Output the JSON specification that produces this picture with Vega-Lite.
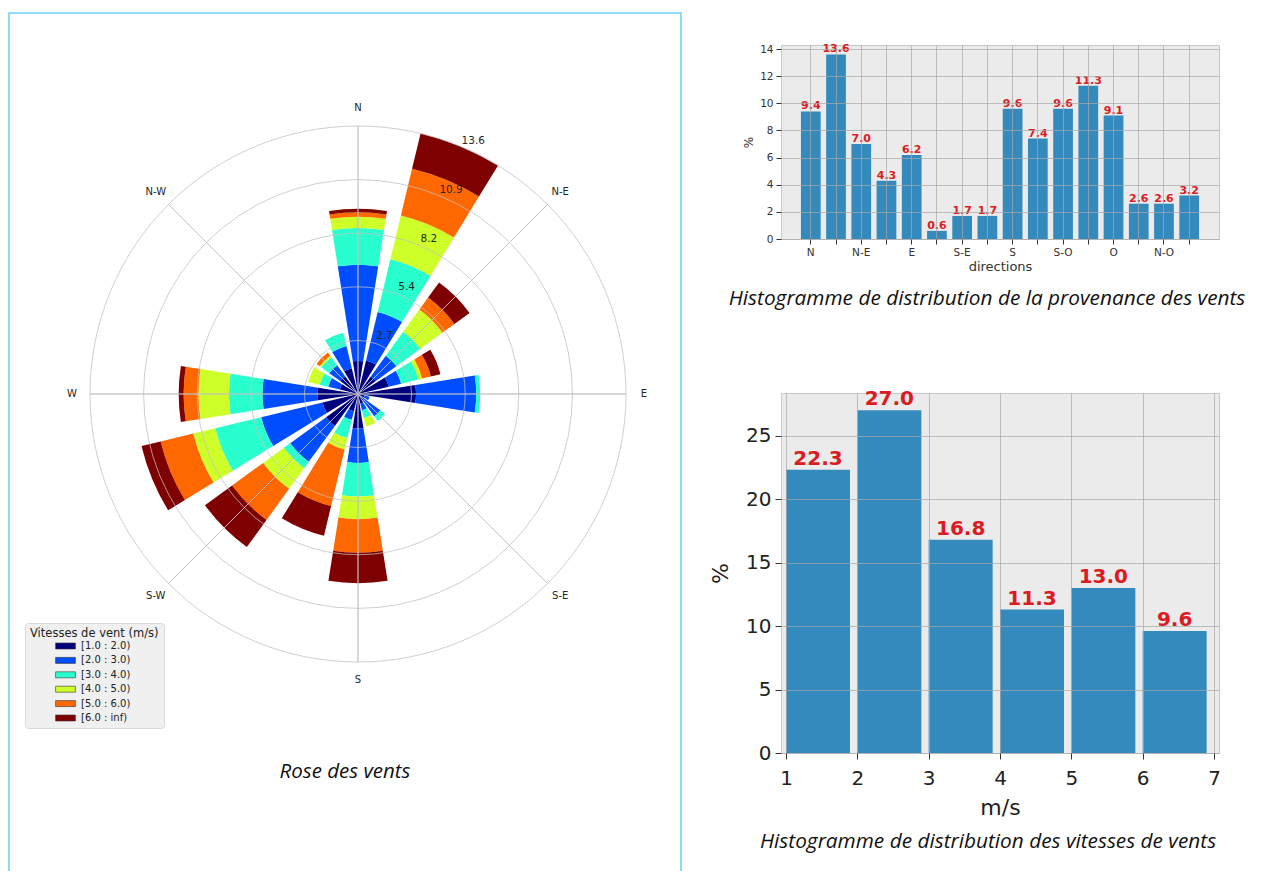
{
  "$schema": "https://vega.github.io/schema/vega-lite/v6.json",
  "background": "white",
  "padding": {"left": 8, "top": 12, "right": 0, "bottom": 0},
  "config": {"font": "DejaVu Sans", "view": {"stroke": null}},
  "datasets": {
    "rose": [
      {"dir": "N", "vitesse": "[1.0 : 2.0)", "pct": 1.68}, {"dir": "N", "vitesse": "[2.0 : 3.0)", "pct": 4.88}, {"dir": "N", "vitesse": "[3.0 : 4.0)", "pct": 1.86}, {"dir": "N", "vitesse": "[4.0 : 5.0)", "pct": 0.58}, {"dir": "N", "vitesse": "[5.0 : 6.0)", "pct": 0.22}, {"dir": "N", "vitesse": "[6.0 : inf)", "pct": 0.18},
      {"dir": "NNE", "vitesse": "[1.0 : 2.0)", "pct": 1.75}, {"dir": "NNE", "vitesse": "[2.0 : 3.0)", "pct": 2.53}, {"dir": "NNE", "vitesse": "[3.0 : 4.0)", "pct": 2.75}, {"dir": "NNE", "vitesse": "[4.0 : 5.0)", "pct": 2.29}, {"dir": "NNE", "vitesse": "[5.0 : 6.0)", "pct": 2.43}, {"dir": "NNE", "vitesse": "[6.0 : inf)", "pct": 1.85},
      {"dir": "NE", "vitesse": "[1.0 : 2.0)", "pct": 1.1}, {"dir": "NE", "vitesse": "[2.0 : 3.0)", "pct": 1.3}, {"dir": "NE", "vitesse": "[3.0 : 4.0)", "pct": 1.5}, {"dir": "NE", "vitesse": "[4.0 : 5.0)", "pct": 1.4}, {"dir": "NE", "vitesse": "[5.0 : 6.0)", "pct": 0.75}, {"dir": "NE", "vitesse": "[6.0 : inf)", "pct": 0.95},
      {"dir": "ENE", "vitesse": "[1.0 : 2.0)", "pct": 1.6}, {"dir": "ENE", "vitesse": "[2.0 : 3.0)", "pct": 0.65}, {"dir": "ENE", "vitesse": "[3.0 : 4.0)", "pct": 0.9}, {"dir": "ENE", "vitesse": "[4.0 : 5.0)", "pct": 0.2}, {"dir": "ENE", "vitesse": "[5.0 : 6.0)", "pct": 0.45}, {"dir": "ENE", "vitesse": "[6.0 : inf)", "pct": 0.5},
      {"dir": "E", "vitesse": "[1.0 : 2.0)", "pct": 2.95}, {"dir": "E", "vitesse": "[2.0 : 3.0)", "pct": 3.05}, {"dir": "E", "vitesse": "[3.0 : 4.0)", "pct": 0.2},
      {"dir": "ESE", "vitesse": "[1.0 : 2.0)", "pct": 0.35}, {"dir": "ESE", "vitesse": "[2.0 : 3.0)", "pct": 0.25},
      {"dir": "SE", "vitesse": "[1.0 : 2.0)", "pct": 0.4}, {"dir": "SE", "vitesse": "[2.0 : 3.0)", "pct": 1.0}, {"dir": "SE", "vitesse": "[3.0 : 4.0)", "pct": 0.3},
      {"dir": "SSE", "vitesse": "[1.0 : 2.0)", "pct": 0.5}, {"dir": "SSE", "vitesse": "[2.0 : 3.0)", "pct": 0.35}, {"dir": "SSE", "vitesse": "[3.0 : 4.0)", "pct": 0.4}, {"dir": "SSE", "vitesse": "[4.0 : 5.0)", "pct": 0.45},
      {"dir": "S", "vitesse": "[1.0 : 2.0)", "pct": 1.75}, {"dir": "S", "vitesse": "[2.0 : 3.0)", "pct": 1.75}, {"dir": "S", "vitesse": "[3.0 : 4.0)", "pct": 1.7}, {"dir": "S", "vitesse": "[4.0 : 5.0)", "pct": 1.15}, {"dir": "S", "vitesse": "[5.0 : 6.0)", "pct": 1.7}, {"dir": "S", "vitesse": "[6.0 : inf)", "pct": 1.55},
      {"dir": "SSW", "vitesse": "[1.0 : 2.0)", "pct": 0.9}, {"dir": "SSW", "vitesse": "[2.0 : 3.0)", "pct": 0.45}, {"dir": "SSW", "vitesse": "[3.0 : 4.0)", "pct": 0.95}, {"dir": "SSW", "vitesse": "[4.0 : 5.0)", "pct": 0.6}, {"dir": "SSW", "vitesse": "[5.0 : 6.0)", "pct": 2.95}, {"dir": "SSW", "vitesse": "[6.0 : inf)", "pct": 1.55},
      {"dir": "SW", "vitesse": "[1.0 : 2.0)", "pct": 2.0}, {"dir": "SW", "vitesse": "[2.0 : 3.0)", "pct": 2.25}, {"dir": "SW", "vitesse": "[3.0 : 4.0)", "pct": 0.4}, {"dir": "SW", "vitesse": "[4.0 : 5.0)", "pct": 1.3}, {"dir": "SW", "vitesse": "[5.0 : 6.0)", "pct": 1.95}, {"dir": "SW", "vitesse": "[6.0 : inf)", "pct": 1.7},
      {"dir": "WSW", "vitesse": "[1.0 : 2.0)", "pct": 1.85}, {"dir": "WSW", "vitesse": "[2.0 : 3.0)", "pct": 3.2}, {"dir": "WSW", "vitesse": "[3.0 : 4.0)", "pct": 2.4}, {"dir": "WSW", "vitesse": "[4.0 : 5.0)", "pct": 1.15}, {"dir": "WSW", "vitesse": "[5.0 : 6.0)", "pct": 1.7}, {"dir": "WSW", "vitesse": "[6.0 : inf)", "pct": 1.0},
      {"dir": "W", "vitesse": "[1.0 : 2.0)", "pct": 2.05}, {"dir": "W", "vitesse": "[2.0 : 3.0)", "pct": 2.8}, {"dir": "W", "vitesse": "[3.0 : 4.0)", "pct": 1.7}, {"dir": "W", "vitesse": "[4.0 : 5.0)", "pct": 1.55}, {"dir": "W", "vitesse": "[5.0 : 6.0)", "pct": 0.75}, {"dir": "W", "vitesse": "[6.0 : inf)", "pct": 0.25},
      {"dir": "WNW", "vitesse": "[1.0 : 2.0)", "pct": 0.95}, {"dir": "WNW", "vitesse": "[2.0 : 3.0)", "pct": 0.6}, {"dir": "WNW", "vitesse": "[3.0 : 4.0)", "pct": 0.45}, {"dir": "WNW", "vitesse": "[4.0 : 5.0)", "pct": 0.6},
      {"dir": "NW", "vitesse": "[1.0 : 2.0)", "pct": 1.1}, {"dir": "NW", "vitesse": "[2.0 : 3.0)", "pct": 0.7}, {"dir": "NW", "vitesse": "[3.0 : 4.0)", "pct": 0.5}, {"dir": "NW", "vitesse": "[4.0 : 5.0)", "pct": 0.1}, {"dir": "NW", "vitesse": "[5.0 : 6.0)", "pct": 0.2},
      {"dir": "NNW", "vitesse": "[1.0 : 2.0)", "pct": 1.35}, {"dir": "NNW", "vitesse": "[2.0 : 3.0)", "pct": 1.15}, {"dir": "NNW", "vitesse": "[3.0 : 4.0)", "pct": 0.7}
    ],
    "rings": [{"r": 2.72}, {"r": 5.44}, {"r": 8.16}, {"r": 10.88}, {"r": 13.6}],
    "spokes": [{"angle": 0}, {"angle": 45}, {"angle": 90}, {"angle": 135}, {"angle": 180}, {"angle": 225}, {"angle": 270}, {"angle": 315}],
    "cardinals": [
      {"label": "N", "angle": 0}, {"label": "N-E", "angle": 45}, {"label": "E", "angle": 90}, {"label": "S-E", "angle": 135},
      {"label": "S", "angle": 180}, {"label": "S-W", "angle": 225}, {"label": "W", "angle": 270}, {"label": "N-W", "angle": 315}
    ],
    "dirs": [
      {"dir": "N", "pct": 9.4}, {"dir": "NNE", "pct": 13.6}, {"dir": "N-E", "pct": 7.0}, {"dir": "ENE", "pct": 4.3},
      {"dir": "E", "pct": 6.2}, {"dir": "ESE", "pct": 0.6}, {"dir": "S-E", "pct": 1.7}, {"dir": "SSE", "pct": 1.7},
      {"dir": "S", "pct": 9.6}, {"dir": "SSO", "pct": 7.4}, {"dir": "S-O", "pct": 9.6}, {"dir": "OSO", "pct": 11.3},
      {"dir": "O", "pct": 9.1}, {"dir": "ONO", "pct": 2.6}, {"dir": "N-O", "pct": 2.6}, {"dir": "NNO", "pct": 3.2}
    ],
    "speeds": [
      {"speed_min": 1, "pct": 22.3}, {"speed_min": 2, "pct": 27.0}, {"speed_min": 3, "pct": 16.8},
      {"speed_min": 4, "pct": 11.3}, {"speed_min": 5, "pct": 13.0}, {"speed_min": 6, "pct": 9.6}
    ]
  },
  "spacing": 27,
  "hconcat": [
    {
      "width": 672,
      "height": 859,
      "view": {"stroke": "#6fd0f4", "strokeWidth": 1.5},
      "title": {"text": "Rose des vents", "orient": "bottom", "offset": -110, "anchor": "middle", "font": "Open Sans", "fontStyle": "italic", "fontWeight": "normal", "fontSize": 20.5, "color": "#111111"},
      "encoding": {
        "x": {"datum": 0, "type": "quantitative", "scale": {"domain": [-17.71, 16.39], "nice": false, "zero": false}, "axis": null},
        "y": {"datum": 0, "type": "quantitative", "scale": {"domain": [-24.257, 19.334], "nice": false, "zero": false}, "axis": null}
      },
      "resolve": {"scale": {"theta": "independent"}},
      "layer": [
        {
          "data": {"name": "rose"},
          "transform": [{"stack": "pct", "groupby": ["dir"], "sort": [{"field": "vitesse", "order": "ascending"}], "as": ["r0", "r1"]}],
          "mark": {"type": "arc"},
          "encoding": {
            "theta": {"field": "dir", "type": "nominal", "sort": ["N","NNE","NE","ENE","E","ESE","SE","SSE","S","SSW","SW","WSW","W","WNW","NW","NNW"], "scale": {"type": "band", "paddingInner": 0.2, "paddingOuter": 0.1, "range": [-0.19635, 6.08684]}},
            "radius": {"field": "r1", "type": "quantitative", "stack": null, "scale": {"type": "linear", "domain": [0, 13.6], "range": [0, 268], "zero": true, "nice": false}},
            "radius2": {"field": "r0"},
            "color": {"field": "vitesse", "type": "nominal",
              "scale": {"domain": ["[1.0 : 2.0)", "[2.0 : 3.0)", "[3.0 : 4.0)", "[4.0 : 5.0)", "[5.0 : 6.0)", "[6.0 : inf)"], "range": ["#00007f", "#004cff", "#29ffce", "#ceff29", "#ff6800", "#7f0000"]},
              "legend": {"title": "Vitesses de vent (m/s)", "orient": "none", "legendX": 16, "legendY": 610, "titleFontSize": 11.5, "titleFontWeight": "normal", "titleColor": "#222222", "labelFontSize": 10, "labelColor": "#222222", "fillColor": "#f0f0f0", "strokeColor": "#d8d8d8", "padding": 5, "cornerRadius": 3, "symbolType": "M-1.65,-0.5H1.65V0.5H-1.65Z", "symbolSize": 144, "symbolStrokeColor": "#333333", "symbolStrokeWidth": 0.6, "symbolOffset": 29, "labelOffset": 9, "rowPadding": 2.4, "titlePadding": 0}
            }
          }
        },
        {
          "data": {"name": "rings"},
          "mark": {"type": "arc", "filled": false, "stroke": "#c0c0c0", "strokeWidth": 0.9, "strokeOpacity": 0.85},
          "encoding": {
            "theta": {"datum": 0, "type": "quantitative", "scale": {"domain": [0, 360], "range": [0, 6.283185307179586]}},
            "theta2": {"datum": 360},
            "radius": {"field": "r", "type": "quantitative", "stack": null, "scale": {"type": "linear", "domain": [0, 13.6], "range": [0, 268], "zero": true, "nice": false}}
          }
        },
        {
          "data": {"name": "spokes"},
          "mark": {"type": "arc", "filled": false, "stroke": "#c0c0c0", "strokeWidth": 0.9, "strokeOpacity": 0.85},
          "encoding": {
            "theta": {"field": "angle", "type": "quantitative", "stack": null, "scale": {"domain": [0, 360], "range": [0, 6.283185307179586]}},
            "theta2": {"field": "angle"},
            "radius": {"datum": 13.6, "type": "quantitative", "scale": {"type": "linear", "domain": [0, 13.6], "range": [0, 268], "zero": true, "nice": false}}
          }
        },
        {
          "data": {"name": "rings"},
          "mark": {"type": "text", "fontSize": 10.5, "color": "#262626", "align": "center", "baseline": "middle", "radiusOffset": 10},
          "encoding": {
            "theta": {"datum": 24.5, "type": "quantitative", "scale": {"domain": [0, 360], "range": [0, 6.283185307179586]}},
            "radius": {"field": "r", "type": "quantitative", "stack": null, "scale": {"type": "linear", "domain": [0, 13.6], "range": [0, 268], "zero": true, "nice": false}},
            "text": {"field": "r", "type": "quantitative", "format": ".1f"}
          }
        },
        {
          "data": {"name": "cardinals"},
          "mark": {"type": "text", "fontSize": 10, "color": "#262626", "align": "center", "baseline": "middle", "radiusOffset": 18},
          "encoding": {
            "theta": {"field": "angle", "type": "quantitative", "stack": null, "scale": {"domain": [0, 360], "range": [0, 6.283185307179586]}},
            "radius": {"datum": 13.6, "type": "quantitative", "scale": {"type": "linear", "domain": [0, 13.6], "range": [0, 268], "zero": true, "nice": false}},
            "text": {"field": "label", "type": "nominal"}
          }
        }
      ]
    },
    {
      "spacing": 79,
      "vconcat": [
        {
          "spacing": 28,
          "vconcat": [
            {
              "width": 438,
              "height": 1,
              "data": {"values": [{}]},
              "mark": {"type": "text", "text": " ", "fontSize": 1, "baseline": "middle"}
            },
            {
              "width": 438,
              "height": 194,
              "data": {"name": "dirs"},
              "view": {"fill": "#ebebeb", "stroke": "#c8c8c8"},
              "title": {"text": "Histogramme de distribution de la provenance des vents", "orient": "bottom", "offset": 15, "dx": -13, "anchor": "middle", "font": "Open Sans", "fontStyle": "italic", "fontWeight": "normal", "fontSize": 20.8, "color": "#111111"},
              "encoding": {
                "x": {"field": "dir", "type": "nominal",
                  "sort": ["N","NNE","N-E","ENE","E","ESE","S-E","SSE","S","SSO","S-O","OSO","O","ONO","N-O","NNO"],
                  "scale": {"paddingInner": 0.218, "paddingOuter": 0.79},
                  "axis": {"title": "directions", "labelAngle": 0, "labelExpr": "length(datum.label) == 3 && indexof(datum.label, '-') < 0 ? '' : datum.label", "grid": true, "gridColor": "#a8a8a8", "gridOpacity": 0.7, "domain": false, "tickColor": "#333333", "tickSize": 5, "labelFontSize": 10.5, "labelColor": "#333333", "labelPadding": 3, "titleFontSize": 13, "titleFontWeight": "normal", "titleColor": "#333333", "titlePadding": 3, "zindex": 1}},
                "y": {"field": "pct", "type": "quantitative", "scale": {"domain": [0, 14.3], "nice": false},
                  "axis": {"title": "%", "values": [0, 2, 4, 6, 8, 10, 12, 14], "grid": true, "gridColor": "#a8a8a8", "gridOpacity": 0.7, "domain": false, "tickColor": "#333333", "tickSize": 5, "labelFontSize": 10.5, "labelColor": "#333333", "labelPadding": 3, "titleFontSize": 12, "titleFontWeight": "normal", "titleColor": "#333333", "titlePadding": 4, "zindex": 1}}
              },
              "layer": [
                {"mark": {"type": "bar", "color": "#348abd"}},
                {"mark": {"type": "text", "color": "#dd1a22", "fontWeight": "bold", "fontSize": 11, "baseline": "bottom", "dy": 0},
                 "encoding": {"text": {"field": "pct", "type": "quantitative", "format": ".1f"}}}
              ]
            }
          ]
        },
        {
          "width": 438,
          "height": 360,
          "data": {"name": "speeds"},
          "view": {"fill": "#ebebeb", "stroke": "#c8c8c8"},
          "title": {"text": "Histogramme de distribution des vitesses de vents", "orient": "bottom", "offset": 14, "dx": -12, "anchor": "middle", "font": "Open Sans", "fontStyle": "italic", "fontWeight": "normal", "fontSize": 20.8, "color": "#111111"},
          "encoding": {
            "x": {"field": "speed_min", "type": "quantitative", "scale": {"domain": [1, 7], "nice": false, "zero": false},
              "axis": {"title": "m/s", "values": [1, 2, 3, 4, 5, 6, 7], "format": "d", "grid": true, "gridColor": "#a8a8a8", "gridOpacity": 0.7, "domain": false, "tickColor": "#333333", "tickSize": 6, "labelFontSize": 20, "labelColor": "#222222", "labelPadding": 9, "titleFontSize": 22, "titleFontWeight": "normal", "titleColor": "#222222", "titlePadding": 9, "zindex": 1}},
            "y": {"field": "pct", "type": "quantitative", "scale": {"domain": [0, 28.35], "nice": false},
              "axis": {"title": "%", "values": [0, 5, 10, 15, 20, 25], "grid": true, "gridColor": "#a8a8a8", "gridOpacity": 0.7, "domain": false, "tickColor": "#333333", "tickSize": 6, "labelFontSize": 20, "labelColor": "#222222", "labelPadding": 4, "titleFontSize": 22, "titleFontWeight": "normal", "titleColor": "#222222", "titlePadding": 13, "zindex": 1}}
          },
          "layer": [
            {"mark": {"type": "bar", "color": "#348abd", "width": 64, "xOffset": 32}},
            {"mark": {"type": "text", "color": "#dd1a22", "fontWeight": "bold", "fontSize": 20, "baseline": "bottom", "dx": 32, "dy": -1},
             "encoding": {"text": {"field": "pct", "type": "quantitative", "format": ".1f"}}}
          ]
        }
      ]
    }
  ]
}
